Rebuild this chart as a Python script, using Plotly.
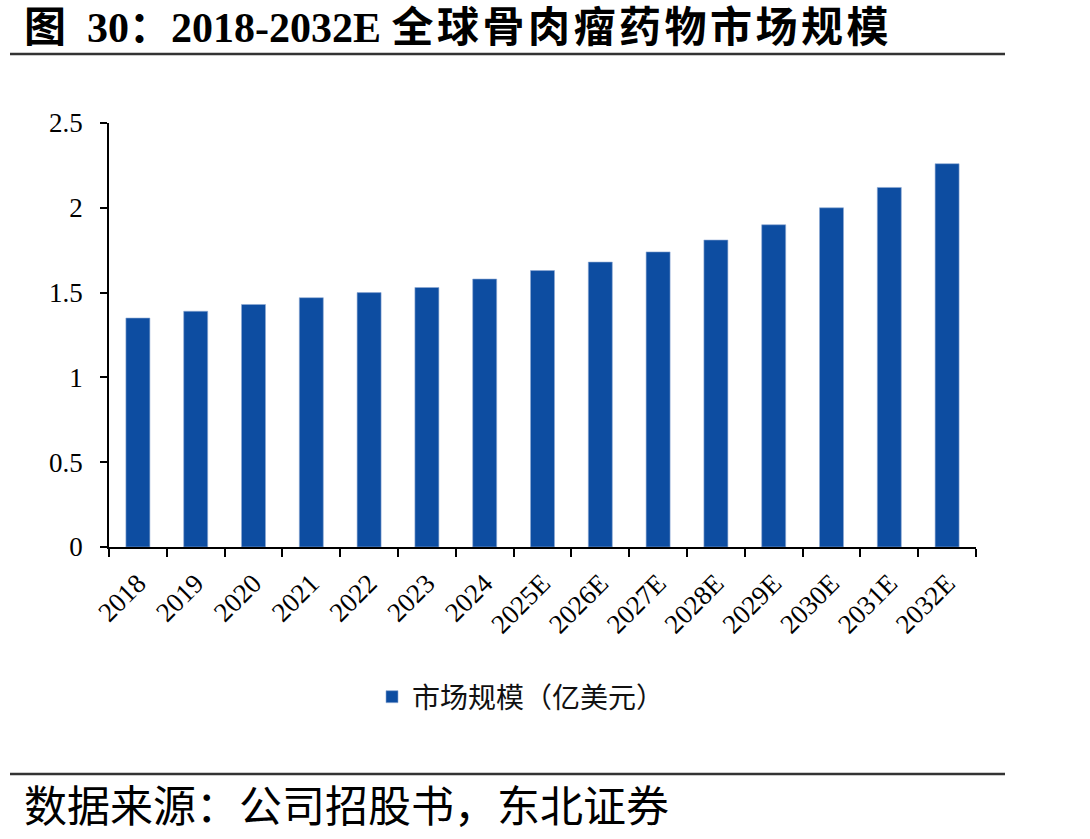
import plotly.graph_objects as go

categories = ["2018", "2019", "2020", "2021", "2022", "2023", "2024", "2025E",
              "2026E", "2027E", "2028E", "2029E", "2030E", "2031E", "2032E"]
market_size = [1.35, 1.39, 1.43, 1.47, 1.50, 1.53, 1.58, 1.63,
               1.68, 1.74, 1.81, 1.90, 2.00, 2.12, 2.26]
series_name = "市场规模（亿美元）"
HS = "\u200a"
title_text = "图&nbsp;&nbsp;30：2018-2032E " + HS.join("全球骨肉瘤药物市场规模")
source_text = "数据来源：公司招股书，东北证券"

W, H = 1090, 839
L, R, T, B = 109, 976, 123, 547

def px(x):
    return (x - L) / (R - L)

def py(y):
    return (B - y) / (B - T)

fig = go.Figure()
fig.add_trace(go.Bar(
    x=categories, y=market_size, name=series_name,
    marker=dict(color="#0D4DA1", line=dict(color="#8FA9D3", width=0.6)),
    showlegend=True,
))

serif = "Liberation Serif, Times New Roman, Noto Sans CJK SC, serif"

fig.update_layout(
    width=W, height=H,
    margin=dict(l=L, r=W - R, t=T, b=H - B, pad=0),
    paper_bgcolor="white", plot_bgcolor="white",
    bargap=0.585,
    showlegend=True,
    legend=dict(orientation="h", x=px(372), xanchor="left", y=py(697), yanchor="middle",
                font=dict(family="Noto Sans CJK SC, sans-serif", size=28, color="#111"),
                itemwidth=30, bgcolor="rgba(0,0,0,0)"),
    xaxis=dict(
        type="category", showline=True, linecolor="black", linewidth=1.5,
        ticks="outside", tickson="boundaries", ticklen=8, tickwidth=1.5, tickcolor="black",
        tickangle=-45, tickfont=dict(family=serif, size=27, color="black"),
        ticklabelstandoff=8,
        showgrid=False, zeroline=False, fixedrange=True,
    ),
    yaxis=dict(
        range=[0, 2.5], tickvals=[0, 0.5, 1, 1.5, 2, 2.5],
        ticktext=["0", "0.5", "1", "1.5", "2", "2.5"],
        showline=True, linecolor="black", linewidth=1.5,
        ticks="outside", ticklen=7, tickwidth=1.5, tickcolor="black",
        tickfont=dict(family=serif, size=27, color="black"),
        ticklabelstandoff=12,
        showgrid=False, zeroline=False, fixedrange=True,
    ),
)

fig.add_annotation(
    text="<b>" + title_text + "</b>", xref="paper", yref="paper",
    x=px(22), y=py(28), xanchor="left", yanchor="middle", showarrow=False,
    font=dict(family="Liberation Serif, Noto Sans CJK SC, serif", size=42, color="black"),
)
fig.add_annotation(
    text=source_text, xref="paper", yref="paper",
    x=px(22), y=py(803), xanchor="left", yanchor="middle", showarrow=False,
    font=dict(family="Noto Sans CJK SC, sans-serif", size=43, color="black"),
)

for yl in (54, 774):
    fig.add_shape(type="line", xref="paper", yref="paper",
                  x0=px(10), x1=px(1005), y0=py(yl), y1=py(yl),
                  line=dict(color="#333", width=2.5))

fig.write_html("out.html")
